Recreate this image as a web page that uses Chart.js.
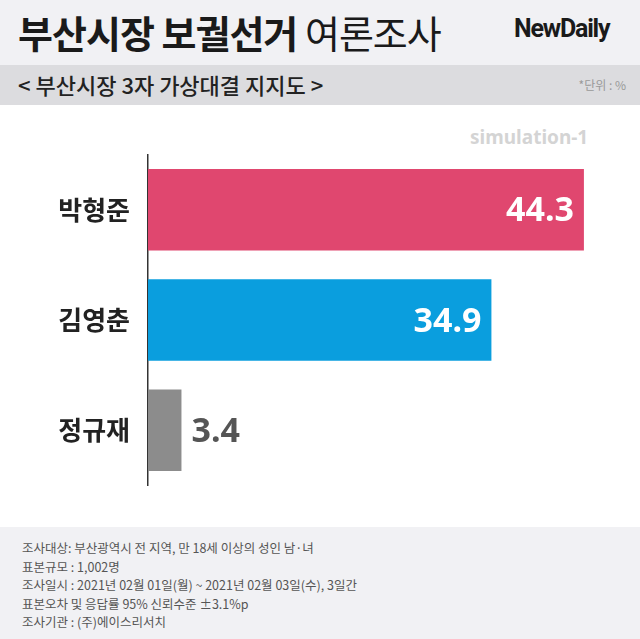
<!DOCTYPE html><html><head><meta charset="utf-8">
<script src="https://cdn.jsdelivr.net/npm/chart.js@4"></script>
<style>
body{margin:0;width:640px;height:639px;position:relative;font-family:"Noto Sans CJK KR","Noto Sans",sans-serif;background:#fff;overflow:hidden}
.hd{position:absolute;left:0;top:0;width:640px;height:65px;background:#f1f1f4}
.t{position:absolute;left:18px;top:4px;font-size:38px;font-weight:700;color:#1a1a1a;letter-spacing:-1px}
.t span{font-weight:400}
.logo{position:absolute;left:514px;top:14px;font-family:Roboto,sans-serif;font-weight:700;font-size:25px;color:#1a1a1a;letter-spacing:-1.2px}
.sb{position:absolute;left:0;top:65px;width:640px;height:40px;background:#dcdcdf}
.st{position:absolute;left:18px;top:3px;font-size:22px;font-weight:500;color:#222}
.un{position:absolute;right:14px;top:11px;font-size:12px;color:#999}
.sim{position:absolute;left:470px;top:124px;font-size:19px;font-weight:700;color:#d4d4d4;font-family:"Noto Sans",sans-serif}
.ft{position:absolute;left:0;top:527px;width:640px;height:112px;background:#f1f1f4;font-size:12.5px;color:#555;line-height:18.5px}
.ft div{position:absolute;left:22px;top:12px}
#c{position:absolute;left:0;top:121px}
</style></head><body>
<div class="hd"><div class="t">부산시장 보궐선거 <span>여론조사</span></div><div class="logo">NewDaily</div></div>
<div class="sb"><div class="st">&lt; 부산시장 3자 가상대결 지지도 &gt;</div><div class="un">*단위 : %</div></div>
<div class="sim">simulation-1</div>
<canvas id="c" width="640" height="398"></canvas>
<div class="ft"><div>조사대상: 부산광역시 전 지역, 만 18세 이상의 성인 남·녀<br>표본규모 : 1,002명<br>조사일시 : 2021년 02월 01일(월) ~ 2021년 02월 03일(수), 3일간<br>표본오차 및 응답률 95% 신뢰수준 ±3.1%p<br>조사기관 : (주)에이스리서치</div></div>
<script>
const categories=["박형준","김영춘","정규재"];
const values=[44.3,34.9,3.4];
const colors=["#e0476f","#0a9ede","#8c8c8c"];
const labelPlugin={id:"vl",afterDatasetsDraw(ch){const ctx=ch.ctx;const meta=ch.getDatasetMeta(0);ctx.save();ctx.font="bold 34px 'Noto Sans','Noto Sans CJK KR',sans-serif";ctx.textBaseline="middle";
meta.data.forEach((b,i)=>{const v=values[i].toFixed(1);if(values[i]>10){ctx.fillStyle="#fff";ctx.textAlign="right";ctx.fillText(v,b.x-10,b.y+2);}else{ctx.fillStyle="#555";ctx.textAlign="left";ctx.fillText(v,b.x+10,b.y+2);}});ctx.restore();}};
new Chart(document.getElementById("c"),{type:"bar",data:{labels:categories,datasets:[{data:values,backgroundColor:colors,barPercentage:0.74,categoryPercentage:1}]},
options:{indexAxis:"y",responsive:false,animation:false,layout:{padding:0},plugins:{legend:{display:false},tooltip:{enabled:false}},
scales:{x:{min:0,max:50,display:false},y:{afterFit(s){s.width=148;},grid:{display:false,drawTicks:false},border:{color:"#333",width:1.5},ticks:{color:"#222",padding:18,font:{size:26,weight:"bold",family:"'Noto Sans CJK KR'"}}}}},plugins:[labelPlugin]});
</script></body></html>
